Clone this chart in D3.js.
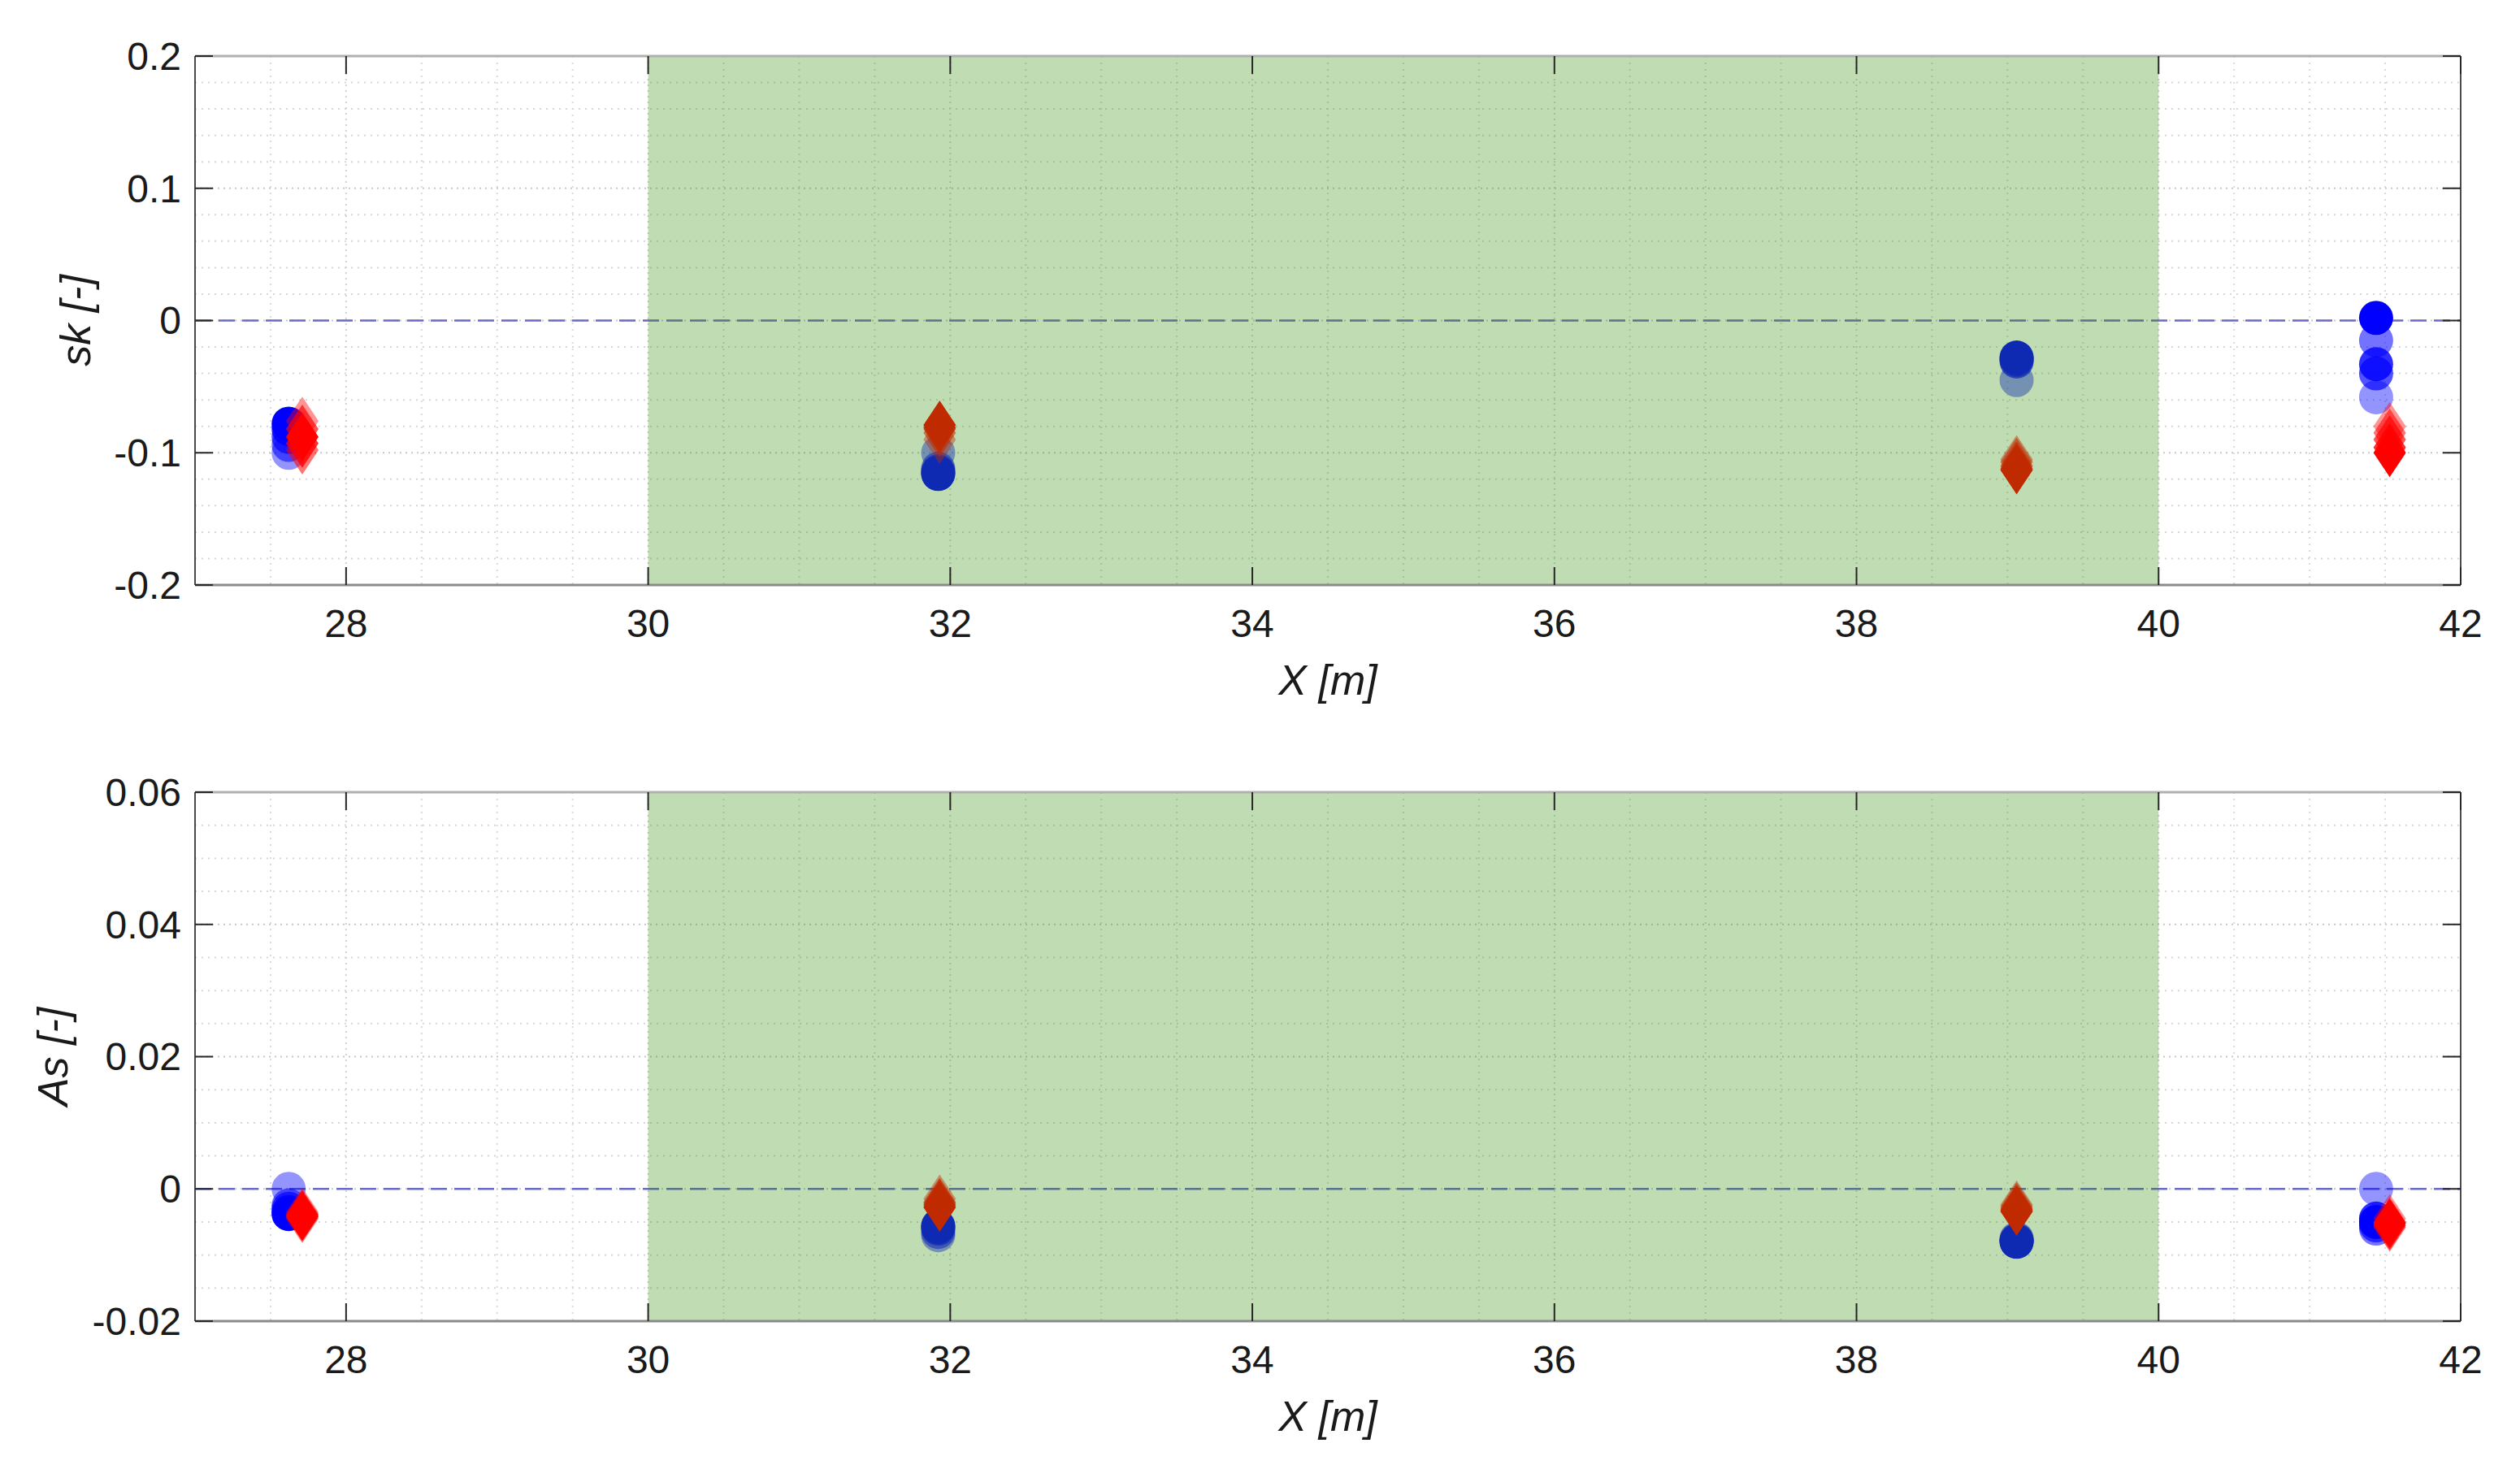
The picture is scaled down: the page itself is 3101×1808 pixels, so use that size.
<!DOCTYPE html>
<html><head><meta charset="utf-8">
<script src="https://cdn.jsdelivr.net/npm/d3@7"></script>
<style>
body{margin:0;background:#fff}
text{font-family:"Liberation Sans",Arial,Helvetica,sans-serif;fill:#1a1a1a}
</style>
</head><body>
<svg id="c" width="3101" height="1808"></svg>
<script>
// ---- data ----
const xDomain = [27, 42];
const xTicks = [28, 30, 32, 34, 36, 38, 40, 42];
const xTickLabels = ["28", "30", "32", "34", "36", "38", "40", "42"];
const skDomain = [-0.2, 0.2];
const skTicks = [-0.2, -0.1, 0, 0.1, 0.2];
const skTickLabels = ["-0.2", "-0.1", "0", "0.1", "0.2"];
const asDomain = [-0.02, 0.06];
const asTicks = [-0.02, 0, 0.02, 0.04, 0.06];
const asTickLabels = ["-0.02", "0", "0.02", "0.04", "0.06"];
const greenZone = [30, 40];

const xCircle = [27.62, 31.92, 39.06, 41.44];
const xDiamond = [27.71, 31.93, 39.06, 41.53];
// series drawn from lightest to darkest
const seriesOpacity = [0.42, 0.55, 0.68, 0.82, 1.0];

const skCircles = [
  [-0.100, -0.100, -0.045, -0.058],
  [-0.094, -0.112, -0.030, -0.015],
  [-0.088, -0.114, -0.031, -0.040],
  [-0.082, -0.115, -0.029, -0.033],
  [-0.078, -0.116, -0.028,  0.002]
];
const skDiamonds = [
  [-0.076, -0.090, -0.105, -0.080],
  [-0.098, -0.085, -0.107, -0.085],
  [-0.082, -0.082, -0.110, -0.090],
  [-0.093, -0.081, -0.112, -0.096],
  [-0.088, -0.079, -0.113, -0.100]
];
const asCircles = [
  [ 0.0000, -0.0070, -0.0075,  0.0000],
  [-0.0025, -0.0065, -0.0077, -0.0060],
  [-0.0030, -0.0060, -0.0078, -0.0055],
  [-0.0035, -0.0058, -0.0079, -0.0045],
  [-0.0038, -0.0056, -0.0080, -0.0050]
];
const asDiamonds = [
  [-0.0035, -0.0015, -0.0024, -0.0045],
  [-0.0045, -0.0020, -0.0027, -0.0058],
  [-0.0038, -0.0022, -0.0030, -0.0050],
  [-0.0040, -0.0025, -0.0032, -0.0055],
  [-0.0042, -0.0028, -0.0034, -0.0052]
];

// ---- drawing ----
const svg = d3.select("#c");
const L = 240, R = 3028;
const x = d3.scaleLinear().domain(xDomain).range([L, R]);

function panel(top, bottom, yDomain, yTicks, yTickLabels, minorStep, circles, diamonds, ylabel, ylabelX) {
  const y = d3.scaleLinear().domain(yDomain).range([bottom, top]);
  const g = svg.append("g");
  const eps = 1e-9;
  // minor grid
  const xMinor = d3.range(xDomain[0], xDomain[1] + eps, 0.5).filter(v => Math.abs(v / 2 - Math.round(v / 2)) > eps);
  const yMinor = d3.range(yDomain[0], yDomain[1] + eps, minorStep)
    .filter(v => !yTicks.some(t => Math.abs(t - v) < minorStep / 10) && v > yDomain[0] + eps && v < yDomain[1] - eps);
  g.selectAll(".xmin").data(xMinor).enter().append("line")
    .attr("x1", d => x(d)).attr("x2", d => x(d)).attr("y1", top).attr("y2", bottom)
    .attr("stroke", "#dadada").attr("stroke-width", 2).attr("stroke-dasharray", "2,6");
  g.selectAll(".ymin").data(yMinor).enter().append("line")
    .attr("x1", L).attr("x2", R).attr("y1", d => y(d)).attr("y2", d => y(d))
    .attr("stroke", "#d6d6d6").attr("stroke-width", 2).attr("stroke-dasharray", "2,6");
  // major grid
  g.selectAll(".xmaj").data(xTicks.filter(t => t > xDomain[0] && t < xDomain[1])).enter().append("line")
    .attr("x1", d => x(d)).attr("x2", d => x(d)).attr("y1", top).attr("y2", bottom)
    .attr("stroke", "#d2d2d2").attr("stroke-width", 2).attr("stroke-dasharray", "2,5");
  g.selectAll(".ymaj").data(yTicks.filter(t => t > yDomain[0] && t < yDomain[1])).enter().append("line")
    .attr("x1", L).attr("x2", R).attr("y1", d => y(d)).attr("y2", d => y(d))
    .attr("stroke", "#c8c8c8").attr("stroke-width", 2).attr("stroke-dasharray", "2,5");
  // zero dashed line
  g.append("line").attr("x1", L).attr("x2", R).attr("y1", y(0)).attr("y2", y(0))
    .attr("stroke", "#6a6ac8").attr("stroke-width", 2.5).attr("stroke-dasharray", "20,9");
  // circles
  circles.forEach((vals, s) => {
    g.selectAll(null).data(vals).enter().append("circle")
      .attr("cx", (d, i) => x(xCircle[i])).attr("cy", d => y(d)).attr("r", 21)
      .attr("fill", "#0000ff").attr("fill-opacity", seriesOpacity[s]);
  });
  // diamonds
  const dia = "M0,-30L20,0L0,30L-20,0Z";
  diamonds.forEach((vals, s) => {
    g.selectAll(null).data(vals).enter().append("path")
      .attr("d", dia)
      .attr("transform", (d, i) => `translate(${x(xDiamond[i])},${y(d)})`)
      .attr("fill", "#ff0000").attr("fill-opacity", seriesOpacity[s]);
  });
  // green zone overlay (semi-transparent patch on top)
  g.append("rect").attr("x", x(greenZone[0])).attr("y", top)
    .attr("width", x(greenZone[1]) - x(greenZone[0])).attr("height", bottom - top)
    .attr("fill", "rgb(45,138,0)").attr("fill-opacity", 0.3);
  // box
  g.append("line").attr("x1", L).attr("x2", R).attr("y1", top).attr("y2", top).attr("stroke", "#b0b0b0").attr("stroke-width", 3);
  g.append("line").attr("x1", L).attr("x2", R).attr("y1", bottom).attr("y2", bottom).attr("stroke", "#8a8a8a").attr("stroke-width", 3);
  g.append("line").attr("x1", L).attr("x2", L).attr("y1", top).attr("y2", bottom).attr("stroke", "#4a4a4a").attr("stroke-width", 2);
  g.append("line").attr("x1", R).attr("x2", R).attr("y1", top).attr("y2", bottom).attr("stroke", "#4a4a4a").attr("stroke-width", 2);
  // ticks (inward, all sides)
  const tl = 22;
  g.selectAll(null).data(xTicks).enter().append("line")
    .attr("x1", d => x(d)).attr("x2", d => x(d)).attr("y1", bottom).attr("y2", bottom - tl)
    .attr("stroke", "#262626").attr("stroke-width", 2);
  g.selectAll(null).data(xTicks).enter().append("line")
    .attr("x1", d => x(d)).attr("x2", d => x(d)).attr("y1", top).attr("y2", top + tl)
    .attr("stroke", "#262626").attr("stroke-width", 2);
  g.selectAll(null).data(yTicks).enter().append("line")
    .attr("x1", L).attr("x2", L + tl).attr("y1", d => y(d)).attr("y2", d => y(d))
    .attr("stroke", "#262626").attr("stroke-width", 2);
  g.selectAll(null).data(yTicks).enter().append("line")
    .attr("x1", R).attr("x2", R - tl).attr("y1", d => y(d)).attr("y2", d => y(d))
    .attr("stroke", "#262626").attr("stroke-width", 2);
  // tick labels
  g.selectAll(null).data(xTicks).enter().append("text")
    .attr("x", d => x(d)).attr("y", bottom + 47).attr("dy", "0.35em")
    .attr("text-anchor", "middle").attr("font-size", 48)
    .text((d, i) => xTickLabels[i]);
  g.selectAll(null).data(yTicks).enter().append("text")
    .attr("x", L - 17).attr("y", d => y(d)).attr("dy", "0.35em")
    .attr("text-anchor", "end").attr("font-size", 48)
    .text((d, i) => yTickLabels[i]);
  // axis labels
  g.append("text").attr("x", (L + R) / 2).attr("y", bottom + 117).attr("dy", "0.35em")
    .attr("text-anchor", "middle").attr("font-size", 52).attr("font-style", "italic").text("X [m]");
  g.append("text").attr("transform", `translate(${ylabelX},${(top + bottom) / 2}) rotate(-90)`)
    .attr("dy", "0.35em").attr("text-anchor", "middle").attr("font-size", 52).attr("font-style", "italic").text(ylabel);
}

panel(69, 720, skDomain, skTicks, skTickLabels, 0.02, skCircles, skDiamonds, "sk [-]", 93);
panel(975, 1626, asDomain, asTicks, asTickLabels, 0.005, asCircles, asDiamonds, "As [-]", 65);
</script>
</body></html>
